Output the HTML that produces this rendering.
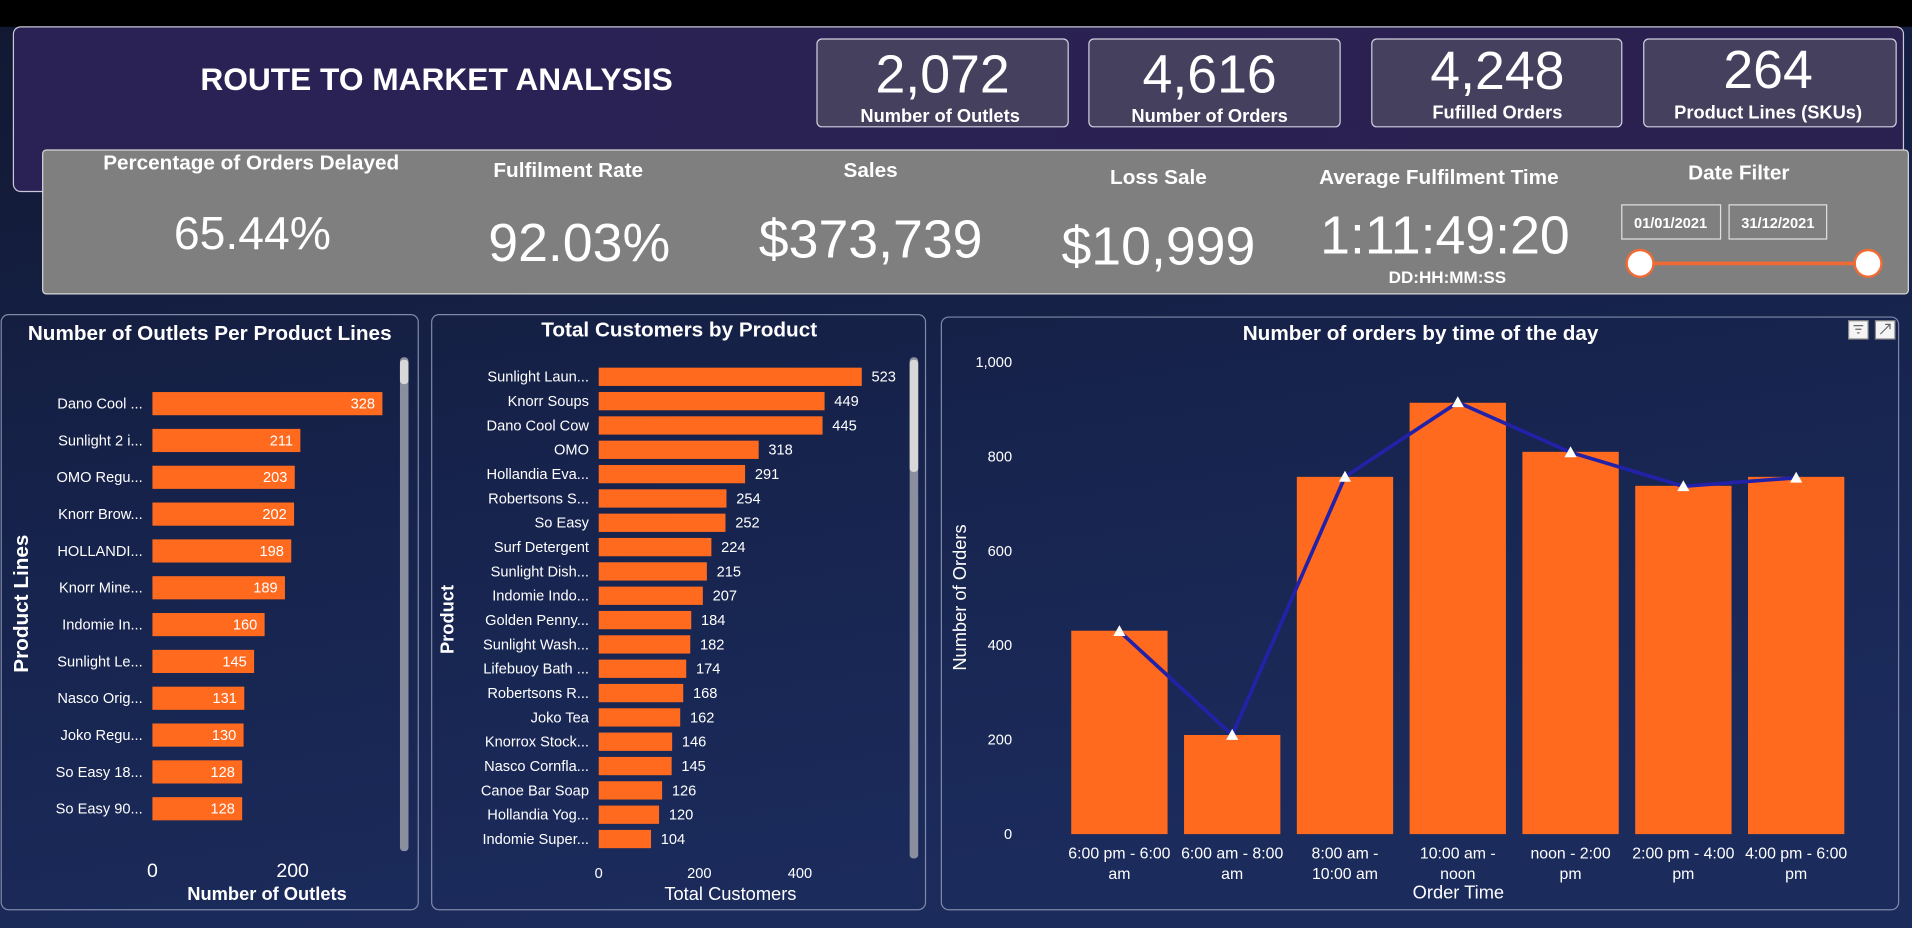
<!DOCTYPE html>
<html><head><meta charset="utf-8"><style>
html,body{margin:0;padding:0;background:#000;}
svg{display:block;}
text{font-family:"Liberation Sans",sans-serif;}
</style></head><body>
<svg id="root" width="1912" height="928" viewBox="0 0 1568 761" preserveAspectRatio="none" xmlns="http://www.w3.org/2000/svg">
<defs>
<linearGradient id="bg" x1="0" y1="0" x2="0.3" y2="1"><stop offset="0" stop-color="#121831"/><stop offset="0.5" stop-color="#16224a"/><stop offset="1" stop-color="#1b2b5c"/></linearGradient>
<linearGradient id="hdr" x1="0" y1="0" x2="1" y2="0"><stop offset="0" stop-color="#2a2255"/><stop offset="1" stop-color="#2b2150"/></linearGradient>
</defs>
<rect x="0" y="0" width="1568" height="761" fill="url(#bg)"/>
<rect x="0" y="0" width="1568" height="22" fill="#000"/>

<g>
<rect x="11" y="22" width="1550" height="135" rx="6" fill="url(#hdr)" stroke="#c8c8d8" stroke-width="1"/>
<text x="358" y="74" text-anchor="middle" font-size="26" font-weight="bold" fill="#fff">ROUTE TO MARKET ANALYSIS</text>
</g>
<g>
<g><rect x="670" y="32" width="206" height="72" rx="4" fill="#44405e" stroke="#d0d0e0"/><text x="773" y="76" text-anchor="middle" font-size="44" fill="#fff">2,072</text><text x="771" y="100" text-anchor="middle" font-size="15" font-weight="bold" fill="#fff">Number of Outlets</text></g>
<g><rect x="893" y="32" width="206" height="72" rx="4" fill="#44405e" stroke="#d0d0e0"/><text x="992" y="76" text-anchor="middle" font-size="44" fill="#fff">4,616</text><text x="992" y="100" text-anchor="middle" font-size="15" font-weight="bold" fill="#fff">Number of Orders</text></g>
<g><rect x="1125" y="32" width="205" height="72" rx="4" fill="#44405e" stroke="#d0d0e0"/><text x="1228" y="73" text-anchor="middle" font-size="44" fill="#fff">4,248</text><text x="1228" y="97" text-anchor="middle" font-size="15" font-weight="bold" fill="#fff">Fufilled Orders</text></g>
<g><rect x="1348" y="32" width="207" height="72" rx="4" fill="#44405e" stroke="#d0d0e0"/><text x="1450" y="72" text-anchor="middle" font-size="44" fill="#fff">264</text><text x="1450" y="97" text-anchor="middle" font-size="15" font-weight="bold" fill="#fff">Product Lines (SKUs)</text></g>
</g>

<g>
<rect x="35" y="123" width="1530" height="118" rx="3" fill="#7f7f7f" stroke="#d8d8d8"/>
<text x="206" y="139" text-anchor="middle" font-size="17" font-weight="bold" fill="#fff">Percentage of Orders Delayed</text>
<text x="207" y="204" text-anchor="middle" font-size="38" fill="#fff">65.44%</text>
<text x="466" y="145" text-anchor="middle" font-size="17" font-weight="bold" fill="#fff">Fulfilment Rate</text>
<text x="475" y="214" text-anchor="middle" font-size="44" fill="#fff">92.03%</text>
<text x="714" y="145" text-anchor="middle" font-size="17" font-weight="bold" fill="#fff">Sales</text>
<text x="714" y="211" text-anchor="middle" font-size="44" fill="#fff">$373,739</text>
<text x="950" y="151" text-anchor="middle" font-size="17" font-weight="bold" fill="#fff">Loss Sale</text>
<text x="950" y="217" text-anchor="middle" font-size="44" fill="#fff">$10,999</text>
<text x="1180" y="151" text-anchor="middle" font-size="17" font-weight="bold" fill="#fff">Average Fulfilment Time</text>
<text x="1185" y="208" text-anchor="middle" font-size="44" fill="#fff">1:11:49:20</text>
<text x="1187" y="232" text-anchor="middle" font-size="14" font-weight="bold" fill="#fff">DD:HH:MM:SS</text>
<text x="1426" y="147" text-anchor="middle" font-size="17" font-weight="bold" fill="#fff">Date Filter</text>
<g><rect x="1330" y="168" width="81" height="28" fill="#7f7f7f" stroke="#e0e0e0"/><text x="1370" y="187" text-anchor="middle" font-size="12" font-weight="bold" fill="#fff">01/01/2021</text></g>
<g><rect x="1418" y="168" width="80" height="28" fill="#7f7f7f" stroke="#e0e0e0"/><text x="1458" y="187" text-anchor="middle" font-size="12" font-weight="bold" fill="#fff">31/12/2021</text></g>
<line x1="1345" y1="216" x2="1532" y2="216" stroke="#f06a35" stroke-width="3"/>
<circle cx="1345" cy="216" r="11" fill="#fff" stroke="#f06a35" stroke-width="2"/>
<circle cx="1532" cy="216" r="11" fill="#fff" stroke="#f06a35" stroke-width="2"/>
</g>

<g>
<rect x="1" y="258" width="342" height="488" rx="6" fill="none" stroke="#8088a8"/>
<text x="172" y="279" text-anchor="middle" font-size="17" font-weight="bold" fill="#fff">Number of Outlets Per Product Lines</text>
<text transform="translate(23,495) rotate(-90)" text-anchor="middle" font-size="17" font-weight="bold" fill="#fff">Product Lines</text>
<text x="219" y="738" text-anchor="middle" font-size="15" font-weight="bold" fill="#fff">Number of Outlets</text>
<rect x="328" y="293" width="7" height="405" rx="3" fill="#8a8fa0"/>
<rect x="328" y="295" width="7" height="20" rx="3" fill="#d8d8d8"/>
<g id="c1"></g>
</g>

<g>
<rect x="354" y="258" width="405" height="488" rx="6" fill="none" stroke="#8088a8"/>
<text x="557" y="276" text-anchor="middle" font-size="17" font-weight="bold" fill="#fff">Total Customers by Product</text>
<text transform="translate(372,508) rotate(-90)" text-anchor="middle" font-size="15" font-weight="bold" fill="#fff">Product</text>
<text x="599" y="738" text-anchor="middle" font-size="15" fill="#fff">Total Customers</text>
<rect x="746" y="293" width="7" height="411" rx="3" fill="#8a8fa0"/>
<rect x="746" y="295" width="7" height="92" rx="3" fill="#d8d8d8"/>
<g id="c2"></g>
</g>

<g>
<rect x="772" y="260" width="785" height="486" rx="6" fill="none" stroke="#8088a8"/>
<text x="1165" y="279" text-anchor="middle" font-size="17" font-weight="bold" fill="#fff">Number of orders by time of the day</text>
<g><rect x="1516" y="263" width="16" height="15" fill="#f4f4f4" stroke="#888"/><path d="M1520 267h8M1521.5 270h5M1523 273h2" stroke="#666" stroke-width="1"/></g>
<g><rect x="1538" y="263" width="16" height="15" fill="#f4f4f4" stroke="#888"/><path d="M1542 274l8-8M1546 266h4v4" stroke="#666" stroke-width="1" fill="none"/></g>
<text transform="translate(792,490) rotate(-90)" text-anchor="middle" font-size="15" fill="#fff">Number of Orders</text>
<text x="1196" y="737" text-anchor="middle" font-size="15" fill="#fff">Order Time</text>
<g id="c3"></g>
</g>
</svg>
<script>
const outletCats=["Dano Cool ...","Sunlight 2 i...","OMO Regu...","Knorr Brow...","HOLLANDI...","Knorr Mine...","Indomie In...","Sunlight Le...","Nasco Orig...","Joko Regu...","So Easy 18...","So Easy 90..."];
const outletVals=[328,211,203,202,198,189,160,145,131,130,128,128];
const outletTicks=[0,200];
const custCats=["Sunlight Laun...","Knorr Soups","Dano Cool Cow","OMO","Hollandia Eva...","Robertsons S...","So Easy","Surf Detergent","Sunlight Dish...","Indomie Indo...","Golden Penny...","Sunlight Wash...","Lifebuoy Bath ...","Robertsons R...","Joko Tea","Knorrox Stock...","Nasco Cornfla...","Canoe Bar Soap","Hollandia Yog...","Indomie Super..."];
const custVals=[523,449,445,318,291,254,252,224,215,207,184,182,174,168,162,146,145,126,120,104];
const custTicks=[0,200,400];
const timeCats=[["6:00 pm - 6:00","am"],["6:00 am - 8:00","am"],["8:00 am -","10:00 am"],["10:00 am -","noon"],["noon - 2:00","pm"],["2:00 pm - 4:00","pm"],["4:00 pm - 6:00","pm"]];
const orderVals=[431,210,757,914,810,738,757];
const lineVals=[430,210,757,915,809,737,755];
const orderTicks=[0,200,400,600,800,1000];

const NS="http://www.w3.org/2000/svg";
function mk(tag,attrs,parent,txt){const e=document.createElementNS(NS,tag);for(const k in attrs)e.setAttribute(k,attrs[k]);if(txt!==undefined)e.textContent=txt;parent.appendChild(e);return e;}

(function(){
const g=document.getElementById('c1');
const x0=125,sx=0.575,y0=331,step=30.2,bh=19;
const xs=v=>x0+v*sx;
outletCats.forEach((c,i)=>{
const cy=y0+i*step;
const t=mk('text',{x:117,y:cy+4,'text-anchor':'end','font-size':12,fill:'#fff'},g,c);


const r=mk('rect',{x:x0,y:cy-bh/2,width:xs(outletVals[i])-x0,height:bh,fill:'#ff6a1f'},g);


const v=mk('text',{x:xs(outletVals[i])-6,y:cy+4,'text-anchor':'end','font-size':12,fill:'#fff'},g,outletVals[i]);


});
outletTicks.forEach(tv=>{
const t=mk('text',{x:xs(tv),y:719,'text-anchor':'middle','font-size':16,fill:'#fff'},g,tv);


});
})();

(function(){
const g=document.getElementById('c2');
const x0=491,sx=0.4125,y0=309,step=19.95,bh=15;
const xs=v=>x0+v*sx;
custCats.forEach((c,i)=>{
const cy=y0+i*step;
const t=mk('text',{x:483,y:cy+4,'text-anchor':'end','font-size':12,fill:'#fff'},g,c);


const r=mk('rect',{x:x0,y:cy-bh/2,width:xs(custVals[i])-x0,height:bh,fill:'#ff6a1f'},g);


const v=mk('text',{x:xs(custVals[i])+8,y:cy+4,'font-size':12,fill:'#fff'},g,custVals[i]);


});
custTicks.forEach(tv=>{
const t=mk('text',{x:xs(tv),y:720,'text-anchor':'middle','font-size':12,fill:'#fff'},g,tv);


});
})();

(function(){
const g=document.getElementById('c3');
const yBase=684,sy=0.387,cx0=918,step=92.5,bw=79;
const ys=v=>yBase-v*sy;
const xs=i=>cx0+i*step;
orderTicks.forEach(tv=>{
const t=mk('text',{x:830,y:ys(tv)+4,'text-anchor':'end','font-size':12,fill:'#fff'},g,tv.toLocaleString('en-US'));


});
orderVals.forEach((v,i)=>{
const r=mk('rect',{x:xs(i)-bw/2,y:ys(v),width:bw,height:yBase-ys(v),fill:'#ff6a1f'},g);


timeCats[i].forEach((line,j)=>{
const t=mk('text',{x:xs(i),y:704+j*17,'text-anchor':'middle','font-size':13,fill:'#fff'},g,line);


});
});
const pts=lineVals.map((v,i)=>xs(i)+','+ys(v)).join(' ');
const pl=mk('polyline',{points:pts,fill:'none',stroke:'#2222a8','stroke-width':3},g);


lineVals.forEach((v,i)=>{
const x=xs(i),y=ys(v);
const p=mk('polygon',{points:`${x},${y-5} ${x-5},${y+4} ${x+5},${y+4}`,fill:'#fff'},g);


});
})();
</script>
</body></html>
